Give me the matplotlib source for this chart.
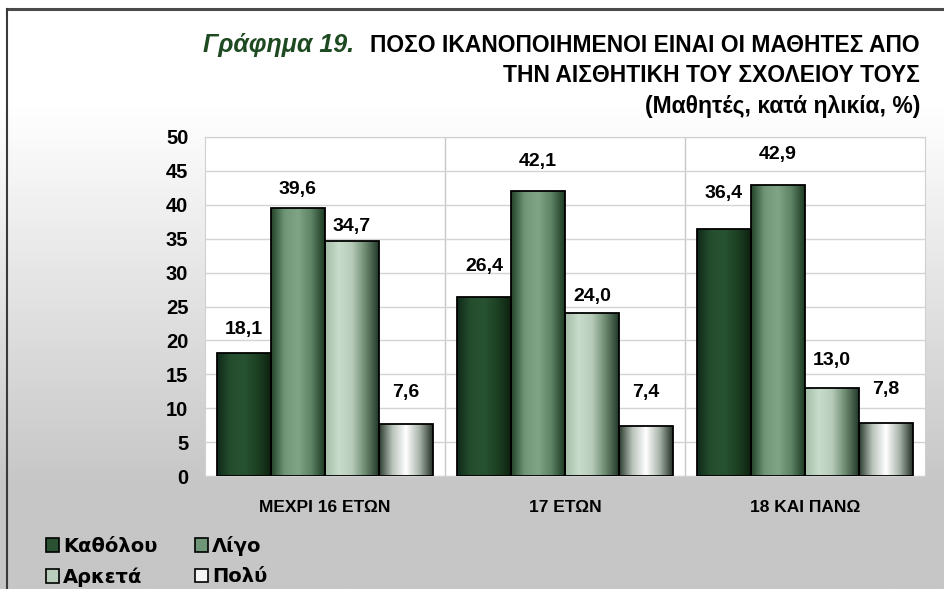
import matplotlib
matplotlib.use('Agg')
import matplotlib.pyplot as plt
import numpy as np
from matplotlib.colors import LinearSegmentedColormap
from matplotlib.patches import Rectangle
from matplotlib.lines import Line2D

# data
groups = ['ΜΕΧΡΙ 16 ΕΤΩΝ', '17 ΕΤΩΝ', '18 ΚΑΙ ΠΑΝΩ']
series = ['Καθόλου', 'Λίγο', 'Αρκετά', 'Πολύ']
kathol = [18.1, 26.4, 36.4]
ligo = [39.6, 42.1, 42.9]
arketa = [34.7, 24.0, 13.0]
poly = [7.6, 7.4, 7.8]
values = [kathol, ligo, arketa, poly]

# horizontal gradient stops for each series (left -> right)
stops = [
    ['#10291a', '#244d2c', '#285332', '#1d4023', '#0d2311'],
    ['#23422a', '#6f9676', '#7fa486', '#5d8264', '#1c3a22'],
    ['#a3bca7', '#c8dccb', '#b6ccb9', '#6c8a70', '#22382a'],
    ['#2c3a2e', '#b9c4ba', '#ffffff', '#aab5ab', '#263228'],
]
legend_colors = ['#2a5232', '#6f9676', '#b8cdbb', '#f4f4f4']
# vertical offsets of value labels above bar tops (points)
label_pad = [[17, 22, 26], [13, 21, 22], [10, 12, 20], [23, 24, 24]]

plt.rcParams['font.family'] = ['Liberation Sans', 'DejaVu Sans']
plt.rcParams['font.weight'] = 'bold'

fig = plt.figure(figsize=(9.44, 5.89), dpi=100)

# background gradient: white at top, grey at bottom
bg = fig.add_axes([0, 0, 1, 1], zorder=-10)
grad = np.linspace(0, 1, 256).reshape(-1, 1)
grad = np.clip((grad - 0.18) / 0.65, 0, 1)
bg_cmap = LinearSegmentedColormap.from_list('bg', ['#ffffff', '#c6c6c6'])
bg.imshow(grad, cmap=bg_cmap, aspect='auto', extent=(0, 1, 0, 1), origin='upper')
bg.set_axis_off()

# frame lines
fig.add_artist(Line2D([7 / 944, 1], [1 - 9 / 589, 1 - 9 / 589], color='#4a4a4a', lw=2.2))
fig.add_artist(Line2D([7 / 944, 7 / 944], [0, 1 - 9 / 589], color='#3a3a3a', lw=1.5))

ax = fig.add_axes([205 / 944, 113 / 589, 720 / 944, 339 / 589])
ax.set_facecolor('white')

x = np.arange(len(groups))
width = 0.225
offsets = [-1.5 * width, -0.5 * width, 0.5 * width, 1.5 * width]
hgrad = np.linspace(0, 1, 200).reshape(1, -1)

for i, vals in enumerate(values):
    bars = ax.bar(x + offsets[i], vals, width, facecolor='none',
                  edgecolor='black', linewidth=1.3, zorder=3)
    cmap = LinearSegmentedColormap.from_list(series[i], stops[i])
    for j, b in enumerate(bars):
        x0, w, h = b.get_x(), b.get_width(), b.get_height()
        im = ax.imshow(hgrad, cmap=cmap, extent=(x0, x0 + w, 0, h),
                       aspect='auto', zorder=2, interpolation='bilinear')
        im.set_clip_path(b)
        ax.annotate(f'{vals[j]:.1f}'.replace('.', ','),
                    (x0 + w / 2, h), xytext=(0, label_pad[i][j]),
                    textcoords='offset points', ha='center', va='center',
                    fontsize=14, fontweight='bold')

ax.set_xlim(-0.5, 2.5)
ax.set_ylim(0, 50)
ax.set_yticks(np.arange(0, 51, 5))
ax.set_xticks(x)
ax.set_xticklabels(groups)
ax.set_xticks([0.5, 1.5], minor=True)
ax.grid(axis='y', color='#d4d4d4', lw=1, zorder=0)
ax.grid(axis='x', which='minor', color='#c8c8c8', lw=1, zorder=0)
ax.tick_params(axis='both', which='both', length=0)
ax.tick_params(axis='y', labelsize=14.5, pad=12)
ax.tick_params(axis='x', labelsize=12.5, pad=17)
for s in ax.spines.values():
    s.set_color('#d0d0d0')

# legend
handles = [Rectangle((0, 0), 1, 1, facecolor=legend_colors[k], edgecolor='black', lw=1.2)
           for k in [0, 2, 1, 3]]
labels = [series[k] for k in [0, 2, 1, 3]]
fig.legend(handles, labels, loc='upper left', bbox_to_anchor=(0.03, 0.12),
           ncol=2, frameon=False, handlelength=0.7, handleheight=0.7,
           handletextpad=0.2, columnspacing=1.9, labelspacing=0.6,
           prop={'family': 'DejaVu Sans', 'weight': 'bold', 'size': 14})

# title
ty = [1 - 45 / 589, 1 - 76 / 589, 1 - 106 / 589]
tsize = 16.5
t1 = fig.text(920 / 944, ty[0], 'ΠΟΣΟ ΙΚΑΝΟΠΟΙΗΜΕΝΟΙ ΕΙΝΑΙ ΟΙ ΜΑΘΗΤΕΣ ΑΠΟ',
              ha='right', va='center', fontsize=tsize, fontweight='bold')
fig.text(920 / 944, ty[1], 'ΤΗΝ ΑΙΣΘΗΤΙΚΗ ΤΟΥ ΣΧΟΛΕΙΟΥ ΤΟΥΣ',
         ha='right', va='center', fontsize=tsize, fontweight='bold')
fig.text(920 / 944, ty[2], '(Μαθητές, κατά ηλικία, %)',
         ha='right', va='center', fontsize=tsize, fontweight='bold')
fig.canvas.draw()
left = t1.get_window_extent().x0
fig.text((left - 16) / 944, ty[0], 'Γράφημα 19.', ha='right', va='center',
         fontsize=18, fontweight='bold', style='italic', color='#1e4a22')

fig.savefig('out.png', dpi=100)
